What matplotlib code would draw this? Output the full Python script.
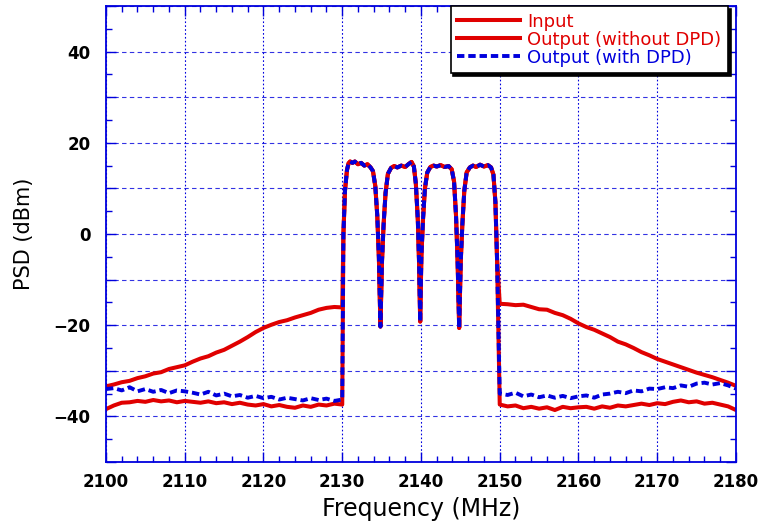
import matplotlib
matplotlib.use('Agg')
import matplotlib.pyplot as plt
from matplotlib.ticker import MultipleLocator, FuncFormatter
import numpy as np

# out-of-band frequencies (MHz), 1 MHz steps
freq_left = list(range(2100, 2131))
freq_right = list(range(2150, 2181))

# Input (red, lower)
input_left = [-38.4, -37.6, -37.0, -36.9, -36.6, -36.8, -36.4, -36.7, -36.5, -36.9,
              -36.6, -36.8, -37.0, -36.7, -37.1, -36.9, -37.3, -37.0, -37.4, -37.6,
              -37.3, -37.8, -37.5, -37.9, -38.1, -37.6, -37.9, -37.4, -37.6, -37.2, -37.4]
input_right = [-37.4, -37.8, -37.6, -38.2, -37.9, -38.3, -38.0, -38.6, -37.9, -38.2,
               -38.0, -37.9, -38.3, -37.8, -38.1, -37.6, -37.8, -37.5, -37.2, -37.5,
               -37.1, -37.3, -36.8, -36.5, -36.9, -36.7, -37.2, -37.0, -37.4, -37.8, -38.6]

# Output without DPD (red, upper)
nodpd_left = [-33.4, -33.0, -32.5, -32.2, -31.6, -31.2, -30.6, -30.3, -29.6, -29.2,
              -28.8, -28.0, -27.3, -26.8, -26.0, -25.4, -24.5, -23.6, -22.6, -21.5,
              -20.6, -19.9, -19.3, -18.9, -18.3, -17.8, -17.3, -16.6, -16.2, -16.0, -16.1]
nodpd_right = [-15.3, -15.4, -15.6, -15.5, -16.0, -16.5, -16.6, -17.3, -17.8, -18.6,
               -19.6, -20.4, -21.0, -21.8, -22.6, -23.6, -24.2, -25.0, -25.9, -26.6,
               -27.4, -28.0, -28.6, -29.2, -29.8, -30.4, -30.9, -31.4, -32.0, -32.6, -33.3]

# Output with DPD (blue dashed)
dpd_left = [-34.0, -33.8, -34.3, -33.6, -34.5, -34.0, -34.6, -34.2, -34.9, -34.3,
            -34.5, -34.8, -35.2, -34.6, -35.4, -35.0, -35.6, -35.3, -35.9, -35.5,
            -36.0, -35.7, -36.3, -35.9, -36.2, -36.5, -36.0, -36.4, -36.1, -36.6, -36.3]
dpd_right = [-35.0, -35.3, -34.8, -35.6, -35.2, -35.8, -35.4, -35.9, -35.5, -36.0,
             -35.6, -35.4, -35.9, -35.2, -35.0, -34.6, -34.9, -34.3, -34.5, -33.9,
             -34.0, -33.6, -33.8, -33.2, -33.5, -32.8, -32.6, -33.0, -32.7, -33.2, -33.9]

# in-band spectrum (four 5 MHz carriers), common to all three traces
band_freq = [2130.15, 2130.35, 2130.6, 2130.8, 2131.0, 2131.3, 2131.6, 2132.0, 2132.4, 2132.8,
             2133.2, 2133.6, 2133.9, 2134.2, 2134.45, 2134.65, 2134.85,
             2135.05, 2135.25, 2135.5, 2135.8, 2136.2, 2136.6, 2137.0, 2137.5, 2138.0,
             2138.4, 2138.8, 2139.1, 2139.35, 2139.6, 2139.75, 2139.9,
             2140.05, 2140.25, 2140.5, 2140.8, 2141.2, 2141.6, 2142.0, 2142.5, 2143.0,
             2143.5, 2143.9, 2144.2, 2144.45, 2144.65, 2144.85,
             2145.05, 2145.25, 2145.5, 2145.8, 2146.2, 2146.6, 2147.0, 2147.5, 2148.0,
             2148.5, 2148.9, 2149.2, 2149.45, 2149.65]
band_psd = [0.0, 9.5, 14.0, 15.5, 15.9, 15.6, 15.9, 15.3, 15.6, 15.0,
            15.3, 14.6, 13.8, 10.5, 4.0, -5.0, -20.3,
            -6.0, 2.0, 9.0, 13.2, 14.5, 14.9, 14.6, 15.0, 14.7,
            15.3, 15.8, 14.8, 11.0, 3.0, -6.0, -19.2,
            -5.0, 3.0, 10.0, 13.5, 14.7, 15.0, 14.8, 15.1, 14.7,
            14.9, 14.2, 11.5, 4.0, -6.0, -20.6,
            -6.0, 2.0, 9.5, 13.5, 14.6, 15.0, 14.7, 15.2, 14.8,
            15.1, 14.6, 13.0, 7.0, -5.0]

freq = freq_left + band_freq + freq_right
psd_input = input_left + band_psd + input_right
psd_nodpd = nodpd_left + band_psd + nodpd_right
psd_dpd = dpd_left + band_psd + dpd_right

red = '#e00000'
blue = '#0000dd'

fig = plt.figure(figsize=(7.63, 5.31), dpi=100)
ax = fig.add_axes([0.1389, 0.1299, 0.8257, 0.8588])

ax.plot(freq, psd_input, color=red, lw=2.9, label='Input')
ax.plot(freq, psd_nodpd, color=red, lw=2.9, label='Output (without DPD)')
ax.plot(freq, psd_dpd, color=blue, lw=2.8, linestyle=(0, (1.9, 1.0)),
        label='Output (with DPD)')

ax.set_xlim(2100, 2180)
ax.set_ylim(-50, 50)
ax.xaxis.set_major_locator(MultipleLocator(10))
ax.xaxis.set_minor_locator(MultipleLocator(2))
ax.yaxis.set_major_locator(MultipleLocator(10))
ax.yaxis.set_minor_locator(MultipleLocator(5))
ax.yaxis.set_major_formatter(FuncFormatter(
    lambda v, p: f'{v:.0f}'.replace('-', '\u2212') if round(v) % 20 == 0 else ''))

ax.tick_params(which='both', direction='in', top=True, right=True, color=blue)
ax.tick_params(which='major', length=7, width=1)
ax.tick_params(which='minor', length=4, width=1)
ax.tick_params(axis='x', pad=8)
ax.tick_params(axis='y', pad=11)
for lab in ax.get_xticklabels() + ax.get_yticklabels():
    lab.set_fontsize(12)
    lab.set_fontweight('bold')

for s in ax.spines.values():
    s.set_color(blue)
    s.set_linewidth(1.3)

ax.grid(axis='y', which='major', color=blue, lw=0.8, linestyle=(0, (4, 3)), alpha=0.8)
ax.grid(axis='x', which='major', color=blue, lw=0.8, linestyle=(0, (1.5, 2)))
ax.set_axisbelow(True)

ax.set_xlabel('Frequency (MHz)', fontsize=17, labelpad=4)
ax.set_ylabel('PSD (dBm)', fontsize=15, labelpad=14)

leg = ax.legend(loc='upper right', bbox_to_anchor=(0.987, 0.999), borderaxespad=0,
                fontsize=13, labelcolor='linecolor', handlelength=3.5,
                handletextpad=0.4, borderpad=0.35, labelspacing=0.0,
                fancybox=False, framealpha=1, edgecolor='black',
                shadow={'facecolor': 'black', 'edgecolor': 'black', 'alpha': 1})
leg.get_frame().set_linewidth(1.2)

fig.savefig('out.png', dpi=100)
